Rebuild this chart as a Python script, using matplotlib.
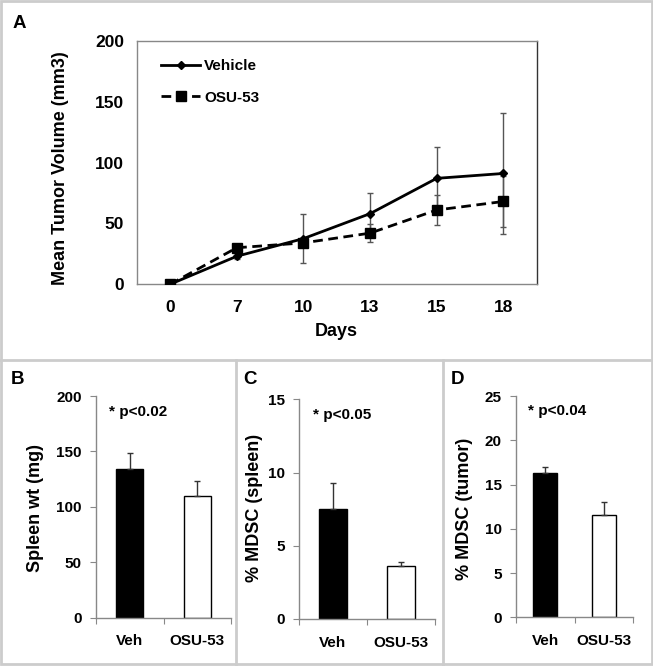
import matplotlib.pyplot as plt
from matplotlib.lines import Line2D
from matplotlib.patches import Rectangle

plt.rcParams['font.family'] = ['Liberation Sans', 'DejaVu Sans']
plt.rcParams['font.weight'] = 'bold'

# Panel A data (tumor volume over time)
days = ['0', '7', '10', '13', '15', '18']
vehicle_mean = [0, 23, 37.5, 58, 87, 91]
vehicle_err = [0, 2.5, 20, 17, 26, 50]
osu_mean = [0, 30, 34, 42, 61, 68]
osu_err = [0, 2, 2, 7.5, 12.5, 21]

# Panels B-D data
groups = ['Veh', 'OSU-53']
spleen_wt = [133.8, 110]
spleen_wt_err = [15, 13]
mdsc_spleen = [7.5, 3.6]
mdsc_spleen_err = [1.8, 0.3]
mdsc_tumor = [16.3, 11.6]
mdsc_tumor_err = [0.7, 1.4]

W, H = 653, 666
fig = plt.figure(figsize=(W / 100, H / 100), dpi=100)


def px_axes(left, top, right, bottom):
    return fig.add_axes([left / W, 1 - bottom / H, (right - left) / W, (bottom - top) / H])


# ---- Panel A ----
ax = px_axes(136.7, 40.7, 536.7, 284.3)
x = range(len(days))
ax.errorbar(x, vehicle_mean, yerr=vehicle_err, fmt='none', ecolor='#555555',
            elinewidth=1, capsize=2.5, capthick=1, zorder=1)
ax.errorbar(x, osu_mean, yerr=osu_err, fmt='none', ecolor='#555555',
            elinewidth=1, capsize=2.5, capthick=1, zorder=1)
ax.plot(x, osu_mean, color='black', lw=2, dashes=(3.5, 2), marker='s', ms=6.5,
        label='OSU-53', zorder=3)
ax.plot(x, vehicle_mean, color='black', lw=2, marker='D', ms=4.5,
        label='Vehicle', zorder=4)
ax.set_xlim(-0.5, 5.5)
ax.set_ylim(0, 200)
ax.set_yticks([0, 50, 100, 150, 200])
ax.set_xticks(list(x))
ax.set_xticklabels(days)
ax.tick_params(length=0, labelsize=12.5, pad=9)
ax.tick_params(axis='x', pad=11)
for s in ax.spines.values():
    s.set_color('#888888')
    s.set_linewidth(1)
ax.spines['right'].set_color('#333333')
ax.set_xlabel('Days', fontsize=13, fontweight='bold', labelpad=6)
ax.set_ylabel('Mean Tumor Volume (mm3)', fontsize=13, fontweight='bold')
ax.yaxis.set_label_coords(-0.169, 0.475)
handles, labels = ax.get_legend_handles_labels()
ax.legend(handles[::-1], labels[::-1], loc='upper left', bbox_to_anchor=(0.06, 0.925),
          frameon=False, fontsize=11, handlelength=2.6, handletextpad=0.25,
          labelspacing=1.15, numpoints=1, borderpad=0, borderaxespad=0)


# ---- Panels B-D ----
def bar_panel(box, vals, errs, ymax, yticks, ylabel, ptext, label_xy):
    a = px_axes(*box)
    pos = [0.5, 1.5]
    a.bar(pos, vals, width=0.4, color=['black', 'white'], edgecolor='black', linewidth=1)
    a.errorbar(pos, vals, yerr=[[0, 0], errs], fmt='none', ecolor='#333333',
               elinewidth=1, capsize=2.5, capthick=1)
    a.set_xlim(0, 2)
    a.set_ylim(0, ymax)
    a.set_yticks(yticks)
    a.set_xticks([0, 1, 2], minor=False)
    a.set_xticklabels([])
    a.set_xticks(pos, minor=True)
    a.set_xticklabels(groups, minor=True)
    a.tick_params(axis='x', which='major', length=4, direction='out', color='#888888')
    a.tick_params(axis='x', which='minor', length=0, pad=12, labelsize=11)
    a.tick_params(axis='y', length=4, direction='out', color='#888888', labelsize=11, pad=6)
    for side in ['top', 'right']:
        a.spines[side].set_visible(False)
    for side in ['left', 'bottom']:
        a.spines[side].set_color('#888888')
        a.spines[side].set_linewidth(1)
    a.set_ylabel(ylabel, fontsize=13, fontweight='bold')
    a.yaxis.set_label_coords(*label_xy)
    a.text(0.1, 0.93, ptext, transform=a.transAxes, fontsize=11, fontweight='bold',
           ha='left', va='center')
    return a


bar_panel((95.8, 396, 231.3, 617.7), spleen_wt, spleen_wt_err, 200, [0, 50, 100, 150, 200],
          'Spleen wt (mg)', '* p<0.02', (-0.382, 0.495))
bar_panel((299, 399.3, 435, 619), mdsc_spleen, mdsc_spleen_err, 15, [0, 5, 10, 15],
          '% MDSC (spleen)', '* p<0.05', (-0.268, 0.505))
bar_panel((515.8, 396, 633.3, 617.3), mdsc_tumor, mdsc_tumor_err, 25, [0, 5, 10, 15, 20, 25],
          '% MDSC (tumor)', '* p<0.04', (-0.364, 0.49))

# panel letters
for letter, (lx, ly) in {'A': (19, 23), 'B': (17, 379), 'C': (250, 379), 'D': (458, 379)}.items():
    fig.text(lx / W, 1 - ly / H, letter, fontsize=13.5, fontweight='bold', ha='center', va='center')

# frame lines
grey = '#cccccc'
fig.add_artist(Rectangle((0.002, 0.003), 0.996, 0.995, transform=fig.transFigure,
                         fill=False, edgecolor=grey, linewidth=2))
fig.add_artist(Line2D([0, 1], [1 - 360 / H] * 2, transform=fig.transFigure, color=grey, lw=2))
for vx in [236.5, 442.5]:
    fig.add_artist(Line2D([vx / W] * 2, [0, 1 - 360 / H], transform=fig.transFigure, color=grey, lw=2))

fig.savefig('out.png', dpi=100)
